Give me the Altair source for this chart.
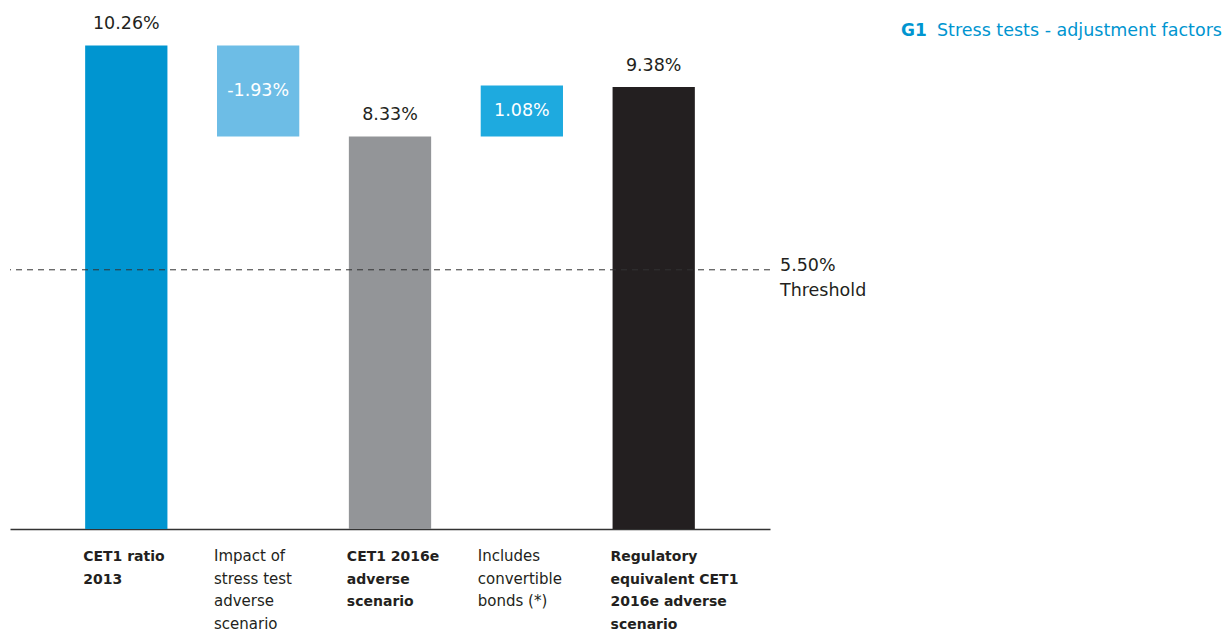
import altair as alt
import pandas as pd

# ---- data ----
categories = ["c1", "c2", "c3", "c4", "c5"]
label_lines = [
    "CET1 ratio\n2013",
    "Impact of\nstress test\nadverse\nscenario",
    "CET1 2016e\nadverse\nscenario",
    "Includes\nconvertible\nbonds (*)",
    "Regulatory\nequivalent CET1\n2016e adverse\nscenario",
]
label_bold = [True, False, True, False, True]
values = [10.26, -1.93, 8.33, 1.08, 9.38]
kinds = ["total", "delta", "total", "delta", "total"]
value_labels = ["10.26%", "-1.93%", "8.33%", "1.08%", "9.38%"]
colors = ["#0095d0", "#6dbde6", "#939598", "#1eaadf", "#231f20"]
threshold = 5.50
threshold_labels = ["5.50%", "Threshold"]
title_prefix = "G1"
title_text = "Stress tests - adjustment factors"

# build table
rows = []
prev_total = 0.0
for cat, lab, bold, v, k, vl, col in zip(categories, label_lines, label_bold,
                                          values, kinds, value_labels, colors):
    if k == "total":
        start, end = 0.0, v
        prev_total = v
    else:
        start, end = prev_total, prev_total + v
    rows.append(dict(cat=cat, label=lab, bold=bold, kind=k, start=start, end=end,
                     top=max(start, end), mid=(start + end) / 2, vlabel=vl, color=col))
df = pd.DataFrame(rows)

FONT = "DejaVu Sans"
W, H = 760, 509
YMAX = 10.80

xscale = alt.Scale(domain=categories, paddingInner=0.376, paddingOuter=0.57)
yscale = alt.Scale(domain=[0, YMAX], nice=False, zero=False)

base = alt.Chart(df)

bars = base.mark_bar().encode(
    x=alt.X("cat:N", scale=xscale,
            axis=alt.Axis(title=None, labels=False, ticks=False, domain=True,
                          domainColor="#333333", domainWidth=1.5)),
    y=alt.Y("start:Q", scale=yscale, axis=None),
    y2="end:Q",
    color=alt.Color("color:N", scale=None),
)

total_labels = base.transform_filter(alt.datum.kind == "total").mark_text(
    font=FONT, fontSize=17.5, color="#231f20", baseline="alphabetic", dy=-16
).encode(
    x=alt.X("cat:N", scale=xscale, bandPosition=0.5),
    y=alt.Y("top:Q", scale=yscale),
    text="vlabel:N",
)

delta_labels = base.transform_filter(alt.datum.kind == "delta").mark_text(
    font=FONT, fontSize=17.5, color="white", baseline="middle"
).encode(
    x=alt.X("cat:N", scale=xscale, bandPosition=0.5),
    y=alt.Y("mid:Q", scale=yscale),
    text="vlabel:N",
)

cat_bold = base.transform_filter(alt.datum.bold == True).mark_text(
    font=FONT, fontSize=14, fontWeight="bold", color="#231f20", align="left",
    baseline="alphabetic", lineBreak="\n", lineHeight=22.5, dx=-2
).encode(
    x=alt.X("cat:N", scale=xscale, bandPosition=0),
    y=alt.value(H + 32),
    text="label:N",
)

cat_norm = base.transform_filter(alt.datum.bold == False).mark_text(
    font=FONT, fontSize=15, color="#231f20", align="left",
    baseline="alphabetic", lineBreak="\n", lineHeight=22.5, dx=-3
).encode(
    x=alt.X("cat:N", scale=xscale, bandPosition=0),
    y=alt.value(H + 32),
    text="label:N",
)

thr_df = pd.DataFrame({"y": [threshold], "l1": [threshold_labels[0]], "l2": [threshold_labels[1]]})
thr = alt.Chart(thr_df)
rule = thr.mark_rule(color="#333333", strokeWidth=1, strokeDash=[6, 5]).encode(
    y=alt.Y("y:Q", scale=yscale)
)
thr_t1 = thr.mark_text(font=FONT, fontSize=17.5, color="#231f20", align="left",
                       baseline="alphabetic", dy=1).encode(
    x=alt.value(W + 10), y=alt.Y("y:Q", scale=yscale), text="l1:N")
thr_t2 = thr.mark_text(font=FONT, fontSize=17.5, color="#231f20", align="left",
                       baseline="alphabetic", dy=26).encode(
    x=alt.value(W + 10), y=alt.Y("y:Q", scale=yscale), text="l2:N")

ttl_df = pd.DataFrame({"p": [title_prefix], "t": [title_text]})
ttl = alt.Chart(ttl_df)
t_prefix = ttl.mark_text(font=FONT, fontSize=17, fontWeight="bold", color="#0095d0",
                         align="left", baseline="alphabetic").encode(
    x=alt.value(891), y=alt.value(16), text="p:N")
t_main = ttl.mark_text(font=FONT, fontSize=17.5, color="#0095d0",
                       align="right", baseline="alphabetic").encode(
    x=alt.value(1212), y=alt.value(16), text="t:N")

chart = alt.layer(
    bars, rule, total_labels, delta_labels, cat_bold, cat_norm,
    thr_t1, thr_t2, t_prefix, t_main
).properties(
    width=W, height=H,
    autosize="none",
    padding={"left": 10, "top": 20, "right": 454, "bottom": 103},
).configure_view(stroke=None).configure_axis(grid=False)

chart.save("out.html", embed_options={"renderer": "svg", "actions": False})
